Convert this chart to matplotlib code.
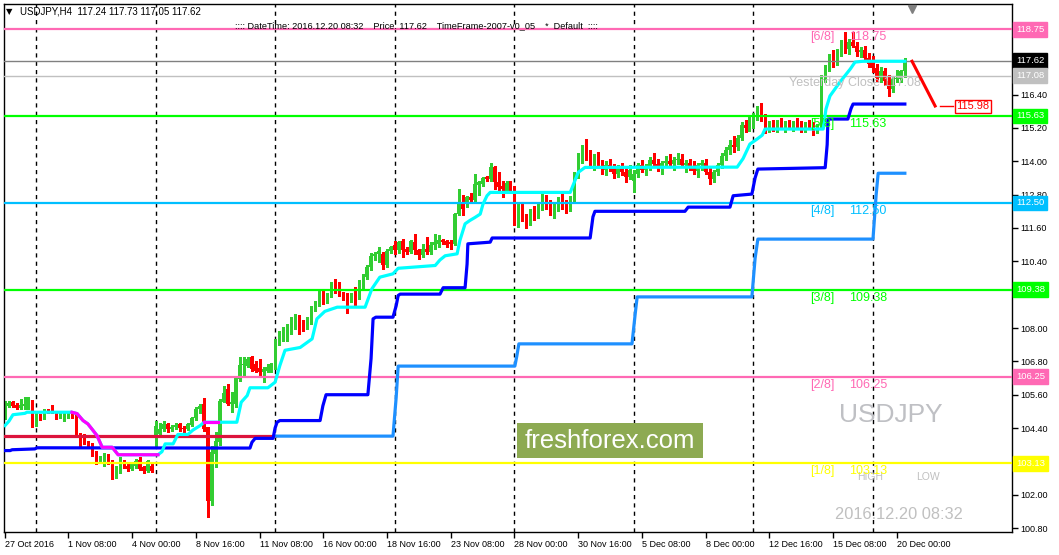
"""
USDJPY H4 chart with Murrey Math levels, redrawn with matplotlib.
"""

import matplotlib
import matplotlib.pyplot as plt
import numpy as np
from matplotlib.patches import Rectangle

matplotlib.use("Agg")

# ---------------------------------------------------------------------------
# Data (bar index 0 = 27 Oct 2016 16:00, one bar = 4 hours)
# ---------------------------------------------------------------------------

opens = [
    104.79, 105.21, 105.33, 105.24, 105.11, 105.20, 105.21, 105.37, 104.55, 104.85,
    104.75, 105.07, 105.03, 104.97, 104.79, 104.79, 104.83, 104.97, 104.85, 104.19,
    104.11, 103.91, 103.83, 103.53, 103.21, 103.29, 103.41, 103.23, 102.84, 102.85,
    103.17, 103.05, 102.93, 103.02, 103.25, 102.99, 102.85, 103.05, 104.07, 104.17,
    104.35, 104.55, 104.35, 104.43, 104.53, 104.42, 104.35, 104.51, 104.77, 105.09,
    105.25, 104.43, 101.79, 103.47, 103.89, 105.35, 105.79, 105.27, 105.27, 106.17,
    106.66, 106.65, 106.95, 106.71, 106.55, 106.41, 106.47, 106.49, 106.79, 107.45,
    107.63, 107.80, 107.85, 108.01, 108.40, 108.21, 108.25, 108.21, 108.75, 108.87,
    109.19, 108.95, 109.17, 109.53, 109.37, 109.23, 109.07, 109.02, 109.14, 109.10,
    109.55, 109.82, 110.19, 110.58, 110.66, 110.66, 110.25, 110.76, 110.99, 110.79,
    111.12, 110.85, 110.73, 111.09, 110.81, 110.61, 110.85, 110.73, 110.97, 111.03,
    111.17, 111.12, 111.09, 111.03, 112.10, 112.47, 112.46, 112.73, 112.61, 113.15,
    113.18, 113.42, 113.36, 113.78, 113.24, 113.12, 112.94, 113.24, 113.00, 111.75,
    112.30, 111.95, 111.80, 112.20, 112.00, 112.35, 112.70, 112.40, 112.15, 112.35,
    112.60, 112.45, 112.30, 112.65, 113.50, 114.20, 114.45, 114.15, 113.95, 114.10,
    113.90, 113.70, 113.85, 113.75, 113.55, 113.75, 113.60, 113.45, 113.30, 113.55,
    113.85, 113.70, 113.80, 114.05, 113.90, 113.75, 113.95, 114.00, 113.90, 114.05,
    114.10, 113.85, 113.95, 113.80, 113.65, 113.85, 113.95, 113.60, 113.35, 113.60,
    113.85, 114.20, 114.40, 114.60, 114.50, 114.85, 115.30, 115.20, 115.45, 115.60,
    115.85, 115.55, 115.15, 115.35, 115.20, 115.40, 115.25, 115.35, 115.20, 115.40,
    115.30, 115.15, 115.35, 115.25, 115.10, 115.30, 117.00, 117.35, 117.75, 117.55,
    117.95, 118.25, 118.05, 118.30, 118.15, 117.95, 118.00, 117.70, 117.60, 117.35,
    117.00, 117.25, 116.90, 116.60, 116.95, 116.95, 117.24,
]
highs = [
    105.39, 105.37, 105.38, 105.30, 105.45, 105.51, 105.53, 105.40, 105.00, 104.90,
    105.07, 105.10, 105.23, 105.00, 104.95, 104.97, 105.00, 105.00, 104.90, 104.23,
    104.19, 103.95, 103.87, 103.57, 103.40, 103.50, 103.45, 103.25, 103.05, 103.35,
    103.25, 103.10, 103.15, 103.30, 103.37, 103.05, 103.25, 103.10, 104.67, 104.59,
    104.65, 104.57, 104.50, 104.60, 104.59, 104.49, 104.57, 104.80, 105.15, 105.25,
    105.49, 104.45, 103.77, 104.25, 105.45, 105.93, 105.99, 105.69, 106.25, 106.95,
    106.95, 106.95, 106.98, 106.80, 106.89, 106.60, 106.70, 106.75, 107.61, 107.90,
    108.05, 108.15, 108.40, 108.50, 108.47, 108.30, 108.38, 108.80, 108.99, 109.40,
    109.35, 109.25, 109.67, 109.77, 109.65, 109.30, 109.26, 109.25, 109.46, 109.73,
    109.95, 110.25, 110.70, 110.75, 110.90, 110.72, 110.85, 110.95, 111.14, 111.13,
    111.20, 110.90, 111.15, 111.39, 110.85, 111.03, 111.27, 111.09, 111.39, 111.33,
    111.21, 111.17, 111.15, 112.15, 113.00, 112.77, 112.76, 112.85, 113.54, 113.30,
    113.45, 113.48, 113.93, 113.84, 113.60, 113.30, 113.30, 113.30, 113.10, 112.45,
    112.55, 112.10, 112.30, 112.40, 112.45, 112.85, 112.80, 112.60, 112.45, 112.70,
    112.85, 112.60, 112.75, 113.60, 114.30, 114.60, 114.80, 114.40, 114.25, 114.35,
    114.05, 114.00, 114.10, 113.90, 113.85, 113.95, 113.80, 113.85, 113.70, 113.95,
    114.05, 113.90, 114.15, 114.30, 114.10, 114.00, 114.20, 114.25, 114.15, 114.30,
    114.25, 114.05, 114.10, 114.00, 113.95, 114.05, 114.10, 113.80, 113.70, 113.95,
    114.30, 114.50, 114.75, 114.90, 114.95, 115.40, 115.50, 115.60, 115.75, 116.00,
    116.10, 115.70, 115.45, 115.50, 115.50, 115.55, 115.45, 115.50, 115.45, 115.55,
    115.45, 115.40, 115.50, 115.40, 115.35, 117.10, 117.45, 117.85, 118.00, 118.05,
    118.35, 118.65, 118.40, 118.65, 118.30, 118.10, 118.15, 117.90, 117.80, 117.50,
    117.40, 117.35, 117.10, 117.05, 117.30, 117.30, 117.73,
]
lows = [
    104.73, 105.17, 105.15, 105.07, 105.09, 105.09, 105.09, 104.45, 104.49, 104.68,
    104.72, 104.95, 104.93, 104.73, 104.75, 104.67, 104.78, 104.75, 104.13, 103.77,
    103.81, 103.73, 103.41, 103.09, 103.15, 103.03, 103.10, 102.55, 102.61, 102.80,
    102.95, 102.85, 102.88, 102.98, 102.90, 102.80, 102.82, 102.82, 103.77, 104.07,
    104.30, 104.25, 104.30, 104.35, 104.31, 104.25, 104.33, 104.48, 104.70, 104.95,
    104.31, 101.19, 101.64, 102.99, 103.80, 105.33, 105.24, 104.97, 105.17, 106.11,
    106.29, 106.60, 106.47, 106.40, 106.29, 106.05, 106.40, 106.40, 106.53, 107.40,
    107.55, 107.55, 107.80, 107.95, 107.80, 107.90, 107.96, 108.15, 108.63, 108.80,
    108.87, 108.90, 109.10, 109.26, 109.16, 109.00, 108.54, 108.95, 108.80, 109.05,
    109.40, 109.76, 110.10, 110.45, 110.36, 110.12, 110.20, 110.70, 110.66, 110.70,
    110.55, 110.65, 110.70, 110.67, 110.49, 110.55, 110.67, 110.67, 110.85, 110.90,
    111.03, 110.93, 110.85, 110.97, 112.05, 112.05, 112.35, 112.55, 112.58, 112.80,
    113.12, 113.30, 113.30, 113.00, 112.88, 112.70, 112.85, 112.95, 111.70, 111.65,
    111.85, 111.60, 111.70, 111.90, 111.95, 112.25, 112.30, 112.05, 111.95, 112.20,
    112.30, 112.15, 112.20, 112.55, 113.40, 113.95, 114.05, 113.80, 113.70, 113.85,
    113.55, 113.50, 113.65, 113.40, 113.45, 113.50, 113.25, 113.35, 112.90, 113.45,
    113.60, 113.50, 113.70, 113.80, 113.65, 113.55, 113.80, 113.85, 113.70, 113.90,
    113.80, 113.60, 113.70, 113.55, 113.45, 113.70, 113.55, 113.20, 113.25, 113.50,
    113.75, 114.05, 114.25, 114.35, 114.40, 114.75, 115.05, 115.10, 115.20, 115.50,
    115.45, 115.00, 115.05, 115.10, 115.05, 115.15, 115.05, 115.15, 115.10, 115.20,
    115.05, 115.05, 115.15, 114.95, 115.00, 115.20, 116.85, 117.25, 117.40, 117.45,
    117.80, 117.90, 117.85, 118.10, 117.80, 117.75, 117.60, 117.40, 117.20, 116.90,
    116.85, 116.75, 116.35, 116.50, 116.85, 116.85, 117.05,
]
closes = [
    105.33, 105.29, 105.21, 105.11, 105.23, 105.25, 105.39, 104.73, 104.85, 104.73,
    105.03, 105.00, 104.97, 104.75, 104.91, 104.89, 104.93, 104.79, 104.19, 104.07,
    103.87, 103.77, 103.53, 103.17, 103.35, 103.41, 103.17, 102.85, 102.97, 103.29,
    103.02, 102.93, 103.11, 103.23, 102.93, 102.85, 103.23, 102.85, 104.49, 104.37,
    104.55, 104.37, 104.45, 104.51, 104.40, 104.35, 104.53, 104.77, 105.09, 105.21,
    104.37, 101.79, 103.53, 103.95, 105.39, 105.67, 105.27, 105.33, 106.19, 106.67,
    106.69, 106.87, 106.53, 106.47, 106.41, 106.53, 106.59, 106.71, 107.39, 107.80,
    107.85, 107.90, 108.11, 108.11, 108.02, 108.02, 108.28, 108.75, 108.87, 109.23,
    108.99, 109.19, 109.55, 109.31, 109.25, 109.05, 108.99, 109.19, 109.10, 109.59,
    109.86, 110.19, 110.58, 110.66, 110.78, 110.27, 110.76, 110.90, 110.81, 111.09,
    110.79, 110.73, 111.12, 110.79, 110.61, 110.85, 110.73, 111.00, 111.09, 111.17,
    111.09, 110.99, 111.03, 112.10, 112.52, 112.29, 112.70, 112.61, 113.18, 113.24,
    113.40, 113.36, 113.78, 113.24, 113.06, 113.00, 113.21, 113.12, 111.75, 112.30,
    111.95, 111.80, 112.20, 112.00, 112.35, 112.70, 112.40, 112.15, 112.35, 112.60,
    112.45, 112.30, 112.65, 113.50, 114.20, 114.45, 114.15, 113.95, 114.10, 113.90,
    113.70, 113.85, 113.75, 113.55, 113.75, 113.60, 113.45, 113.70, 113.55, 113.85,
    113.70, 113.80, 114.05, 113.90, 113.75, 113.95, 114.00, 113.90, 114.05, 114.10,
    113.85, 113.95, 113.80, 113.65, 113.85, 113.95, 113.60, 113.35, 113.60, 113.85,
    114.20, 114.40, 114.60, 114.50, 114.85, 115.30, 115.20, 115.45, 115.60, 115.85,
    115.55, 115.15, 115.35, 115.20, 115.40, 115.25, 115.35, 115.20, 115.40, 115.30,
    115.15, 115.35, 115.25, 115.10, 115.30, 117.00, 117.35, 117.75, 117.55, 117.95,
    118.25, 118.05, 118.30, 118.15, 117.95, 118.00, 117.70, 117.50, 117.35, 117.00,
    117.25, 116.90, 116.60, 116.95, 116.95, 117.24, 117.62,
]

x_tick_bars = list(range(0, 225, 16))
x_tick_labels = [
    "27 Oct 2016", "1 Nov 08:00", "4 Nov 00:00", "8 Nov 16:00", "11 Nov 08:00",
    "16 Nov 00:00", "18 Nov 16:00", "23 Nov 08:00", "28 Nov 00:00", "30 Nov 16:00",
    "5 Dec 08:00", "8 Dec 00:00", "12 Dec 16:00", "15 Dec 08:00", "20 Dec 00:00",
]
week_start_bars = [8, 38, 68, 98, 128, 158, 188, 218]

# Murrey Math levels
mm_names = ["[6/8]", "[5/8]", "[4/8]", "[3/8]", "[2/8]", "[1/8]"]
mm_levels = [118.75, 115.63, 112.50, 109.38, 106.25, 103.13]
mm_colors = ["#FF69B4", "#00FF00", "#00BFFF", "#00FF00", "#FF69B4", "#FFFF00"]

last_price = 117.62
yesterday_close = 117.08
target_price = 115.98

# trailing-stop style indicator lines (bar index, price)
cyan_x = [0.1, 1.1, 2.1, 5.1, 5.6, 16.9, 18.2, 19.7, 20.9, 21.9, 23.2, 24.5, 27.0,
          28.5, 38.5, 39.5, 40.3, 42.3, 43.5, 46.0, 47.3, 49.1, 50.1, 53.6, 58.3,
          59.4, 60.9, 61.6, 66.1, 67.9, 69.1, 70.4, 74.2, 77.2, 78.4, 80.4, 83.5,
          90.5, 92.2, 94.2, 97.5, 98.8, 108.1, 109.3, 110.6, 113.6, 114.3, 115.6,
          116.8, 118.1, 119.4, 120.1, 121.1, 121.9, 142.0, 144.0, 145.7, 183.9,
          185.4, 187.1, 188.9, 190.2, 190.9, 205.5, 206.2, 207.2, 209.7, 212.3,
          213.5, 215.5, 226.0]
cyan_y = [104.49, 104.65, 104.88, 104.93, 104.97, 104.97, 104.92, 104.67, 104.55,
          104.37, 104.13, 103.71, 103.71, 103.44, 103.44, 103.55, 103.83, 103.83,
          104.17, 104.17, 104.33, 104.49, 104.61, 104.61, 104.61, 105.33, 105.57,
          105.85, 105.85, 106.05, 106.65, 107.20, 107.30, 107.61, 108.33, 108.60,
          108.75, 108.75, 109.41, 109.83, 109.95, 110.15, 110.25, 110.45, 110.60,
          110.67, 111.15, 111.75, 111.87, 111.98, 112.10, 112.46, 112.76, 112.88,
          112.88, 113.60, 113.78, 113.79, 114.10, 114.62, 114.80, 114.94, 115.16,
          115.16, 115.88, 116.35, 116.85, 117.32, 117.57, 117.60, 117.60]
magenta_x = [[16.9, 18.2, 19.7, 20.9, 21.9, 23.2, 24.5, 27.0, 28.5, 38.5],
             [50.1, 53.6]]
magenta_y = [[104.97, 104.92, 104.67, 104.55, 104.37, 104.13, 103.71, 103.71,
              103.44, 103.44],
             [104.61, 104.61]]

blue_x = [0.1, 1.4, 1.9, 7.6, 8.1, 61.6, 62.1, 62.9, 67.4, 67.9, 68.4, 69.1, 79.2,
          79.9, 80.7, 91.2, 92.0, 92.5, 93.2, 97.5, 98.3, 98.8, 99.3, 109.3, 110.1,
          115.6, 116.1, 116.3, 121.9, 122.4, 147.0, 147.7, 148.2, 170.8, 171.6,
          182.1, 182.9, 187.6, 188.4, 189.1, 206.0, 206.5, 206.7, 211.7, 212.5,
          213.0, 226.0]
blue_y = [103.59, 103.59, 103.62, 103.65, 103.69, 103.68, 103.89, 104.03, 104.03,
          104.40, 104.61, 104.67, 104.67, 105.20, 105.60, 105.60, 106.90, 108.33,
          108.39, 108.39, 108.80, 109.17, 109.22, 109.22, 109.45, 109.45, 110.30,
          111.03, 111.09, 111.24, 111.24, 112.00, 112.20, 112.20, 112.35, 112.35,
          112.76, 112.82, 113.40, 113.72, 113.77, 114.60, 115.52, 115.52, 115.90,
          116.06, 116.06]

dodger_x = [67.9, 97.5, 98.3, 98.8, 128.1, 128.6, 129.1, 157.5, 158.3, 158.8, 187.6,
            188.4, 189.1, 218.0, 218.8, 219.3, 226.0]
dodger_y = [104.11, 104.11, 105.50, 106.63, 106.63, 107.00, 107.43, 107.43, 108.50,
            109.12, 109.12, 110.50, 111.20, 111.20, 112.80, 113.57, 113.57]

crimson_x = [0.0, 67.9]
crimson_y = [104.11, 104.11]

arrow_x = [227.8, 233.6]
arrow_y = [117.60, 115.99]

y_ticks = [100.80, 102.00, 103.20, 104.40, 105.60, 106.80, 108.00, 109.20, 110.40,
           111.60, 112.80, 114.00, 115.20, 116.40, 117.60, 118.80]
hidden_ticks = [103.20, 117.60, 118.80]   # covered by price boxes

BULL = "#32CD32"
BEAR = "#FF0000"
FONT = "Liberation Sans"

# ---------------------------------------------------------------------------
# Figure
# ---------------------------------------------------------------------------

W, H = 1059, 555
plt.rcParams["font.family"] = [FONT, "DejaVu Sans"]
fig = plt.figure(figsize=(W / 100, H / 100), dpi=100)
ax = fig.add_axes([4 / W, (H - 532) / H, (1012 - 4) / W, (532 - 4) / H])
ax.set_xlim(-0.15, 252.9)
ax.set_ylim(100.66, 119.66)

# candles
o = np.array(opens)
hi = np.array(highs)
lo = np.array(lows)
c = np.array(closes)
bars = np.arange(len(c))
colors = np.where(c >= o, BULL, BEAR)
ax.vlines(bars, lo, hi, colors=colors, lw=1, zorder=2, antialiased=False)
ax.bar(bars, np.maximum(np.abs(c - o), 0.03), bottom=np.minimum(o, c),
       width=0.8, color=colors, lw=0, zorder=2, antialiased=False)

# weekly separators
for b in week_start_bars:
    ax.axvline(b, color="black", lw=1, ls=(0, (3, 3)), zorder=1)

# Murrey levels and their labels
for name, lvl, col in zip(mm_names, mm_levels, mm_colors):
    ax.axhline(lvl, color=col, lw=1.6, zorder=3)
    ax.text(202.3, lvl - 0.07, name, color=col, fontsize=9, va="top", ha="left",
            zorder=6)
    ax.text(211.9, lvl - 0.07, f"{lvl:.2f}", color=col, fontsize=9, va="top",
            ha="left", zorder=6)

ax.axhline(last_price, color="#808080", lw=1, zorder=3)
ax.axhline(yesterday_close, color="#C0C0C0", lw=1, zorder=3)
ax.text(196.8, yesterday_close - 0.05, f"Yesterday Close {yesterday_close:.2f}",
        color="#C0C0C0", fontsize=9, va="top", ha="left", zorder=6)

# indicators
ax.plot(crimson_x, crimson_y, color="#DC143C", lw=2.3, zorder=4)
ax.plot(dodger_x, dodger_y, color="#1E90FF", lw=2.3, zorder=4)
ax.plot(blue_x, blue_y, color="#0000FF", lw=2.3, zorder=4)
ax.plot(cyan_x, cyan_y, color="#00FFFF", lw=2.3, zorder=5)
for mx, my in zip(magenta_x, magenta_y):
    ax.plot(mx, my, color="#FF00FF", lw=2.3, zorder=5)

# projection line and target box
ax.plot(arrow_x, arrow_y, color="#FF0000", lw=2.2, zorder=6)
ax.plot([234.9, 238.1], [target_price, target_price], color="#FF0000", lw=1,
        zorder=6)
ax.text(238.9, target_price, f"{target_price:.2f}", color="#FF0000", fontsize=8,
        va="center", ha="left", zorder=7,
        bbox=dict(boxstyle="square,pad=0.15", fc="white", ec="#FF0000", lw=1))

# chart shift marker
ax.plot([227.8], [0.99], marker="v", color="#808080", ms=6,
        transform=ax.get_xaxis_transform(), clip_on=False, zorder=7)

# corner texts
ax.text(0.002, 0.985, "\u25bc", transform=ax.transAxes, fontsize=6, va="center",
        ha="left", family="DejaVu Sans")
ax.text(0.016, 0.985, "USDJPY,H4  117.24 117.73 117.05 117.62",
        transform=ax.transAxes, fontsize=7, va="center", ha="left")
ax.text(0.409, 0.958,
        ":::: DateTime: 2016.12.20 08:32    Price: 117.62    "
        "TimeFrame-2007-v0_05    *  Default  ::::",
        transform=ax.transAxes, fontsize=6.6, va="center", ha="center")

ax.text(0.880, 0.221, "USDJPY", transform=ax.transAxes, fontsize=19,
        color="#BFC0C4", va="center", ha="center")
ax.text(0.859, 0.104, "HIGH", transform=ax.transAxes, fontsize=7.5,
        color="#C0C0C0", va="center", ha="center")
ax.text(0.917, 0.104, "LOW", transform=ax.transAxes, fontsize=7.5,
        color="#C0C0C0", va="center", ha="center")
ax.text(0.888, 0.034, "2016.12.20 08:32", transform=ax.transAxes, fontsize=11.8,
        color="#C0C0C0", va="center", ha="center")

# watermark box
ax.add_patch(Rectangle(((517 - 4) / 1008, 1 - (458 - 4) / 528), 186 / 1008,
                       35 / 528, transform=ax.transAxes, fc="#8DAA52", ec="none",
                       zorder=8))
ax.text((610 - 4) / 1008, 1 - (441 - 4) / 528, "freshforex.com",
        transform=ax.transAxes, fontsize=18.5, color="white", va="center",
        ha="center", zorder=9)

# axes
for sp in ax.spines.values():
    sp.set_color("black")
    sp.set_linewidth(1)
ax.yaxis.tick_right()
ax.set_yticks(y_ticks)
ax.set_yticklabels(["" if v in hidden_ticks else f"{v:.2f}" for v in y_ticks])
ax.tick_params(axis="y", direction="out", length=4, width=1, pad=2,
               labelsize=6.5)
ax.set_xticks(x_tick_bars)
ax.set_xticklabels(x_tick_labels)
ax.tick_params(axis="x", direction="out", length=4, width=1, pad=2,
               labelsize=6.5)
for lab in ax.get_xticklabels():
    lab.set_ha("left")

# right-axis price boxes
box_names = [f"{v:.2f}" for v in mm_levels] + [f"{last_price:.2f}",
                                               f"{yesterday_close:.2f}"]
box_prices = mm_levels + [last_price, yesterday_close]
box_colors = mm_colors + ["black", "#C0C0C0"]
ytrans = ax.get_yaxis_transform()
for name, price, col in zip(box_names, box_prices, box_colors):
    ax.text(1.004, price, name, transform=ytrans, fontsize=6.8, color="white",
            va="center", ha="left", zorder=9, clip_on=False,
            bbox=dict(boxstyle="square,pad=0.3", fc=col, ec=col))

fig.savefig("out.png", dpi=100)
